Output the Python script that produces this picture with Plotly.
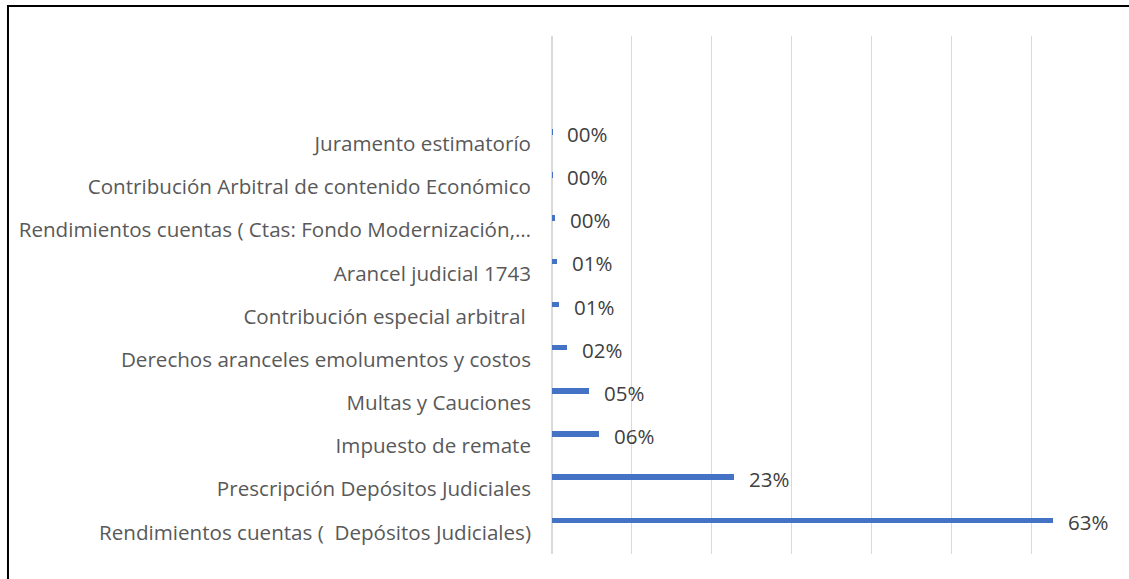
import plotly.graph_objects as go

categories = [
    "Rendimientos cuentas ( \u00a0Depósitos Judiciales)",
    "Prescripción Depósitos Judiciales",
    "Impuesto de remate",
    "Multas y Cauciones",
    "Derechos aranceles emolumentos y costos",
    "Contribución especial arbitral\u00a0",
    "Arancel judicial 1743",
    "Rendimientos cuentas ( Ctas: Fondo Modernización,…",
    "Contribución Arbitral de contenido Económico",
    "Juramento estimatorío",
]
values = [0.627, 0.228, 0.059, 0.046, 0.019, 0.009, 0.006, 0.004, 0.0005, 0.0001]
labels = [f"{round(v * 100):02d}%" for v in values]

FONT = "Open Sans"
BAR_OFFSET = 0.215
BAR_WIDTH = 0.13

fig = go.Figure()
fig.add_trace(go.Bar(
    y=list(range(len(categories))),
    x=values,
    orientation="h",
    marker=dict(color="#4472C4", line=dict(width=0)),
    width=BAR_WIDTH,
    offset=BAR_OFFSET,
    cliponaxis=False,
))

annotations = []
for i, (v, t) in enumerate(zip(values, labels)):
    annotations.append(dict(
        x=v, y=i + BAR_OFFSET + BAR_WIDTH / 2, xref="x", yref="y",
        text=t, showarrow=False, xanchor="left", yanchor="middle",
        xshift=13, yshift=-2,
        font=dict(family=FONT, size=20.5, color="#404040"),
    ))

fig.update_layout(
    width=1129, height=579,
    margin=dict(l=552, r=18, t=36, b=25),
    paper_bgcolor="white", plot_bgcolor="white",
    showlegend=False,
    bargap=0,
    xaxis=dict(range=[0, 0.7], dtick=0.1, showgrid=True, gridcolor="#d9d9d9", gridwidth=1,
               showticklabels=False, zeroline=True, zerolinecolor="#d9d9d9", showline=False,
               fixedrange=True),
    yaxis=dict(range=[-0.5, 11.5], tickvals=list(range(len(categories))), ticktext=categories,
               showgrid=False, zeroline=False, showline=False,
               tickfont=dict(family=FONT, size=20.6, color="#595959"),
               ticklabelstandoff=20),
    annotations=annotations,
    shapes=[dict(type="rect", xref="paper", yref="paper", x0=-0.9732, x1=1.2, y0=-0.2, y1=1.0579,
                 line=dict(color="black", width=2), fillcolor="rgba(0,0,0,0)")],
)

fig.write_html("out.html", config={"displayModeBar": False},
               post_script="document.body.style.margin='0';document.body.style.padding='0';")
